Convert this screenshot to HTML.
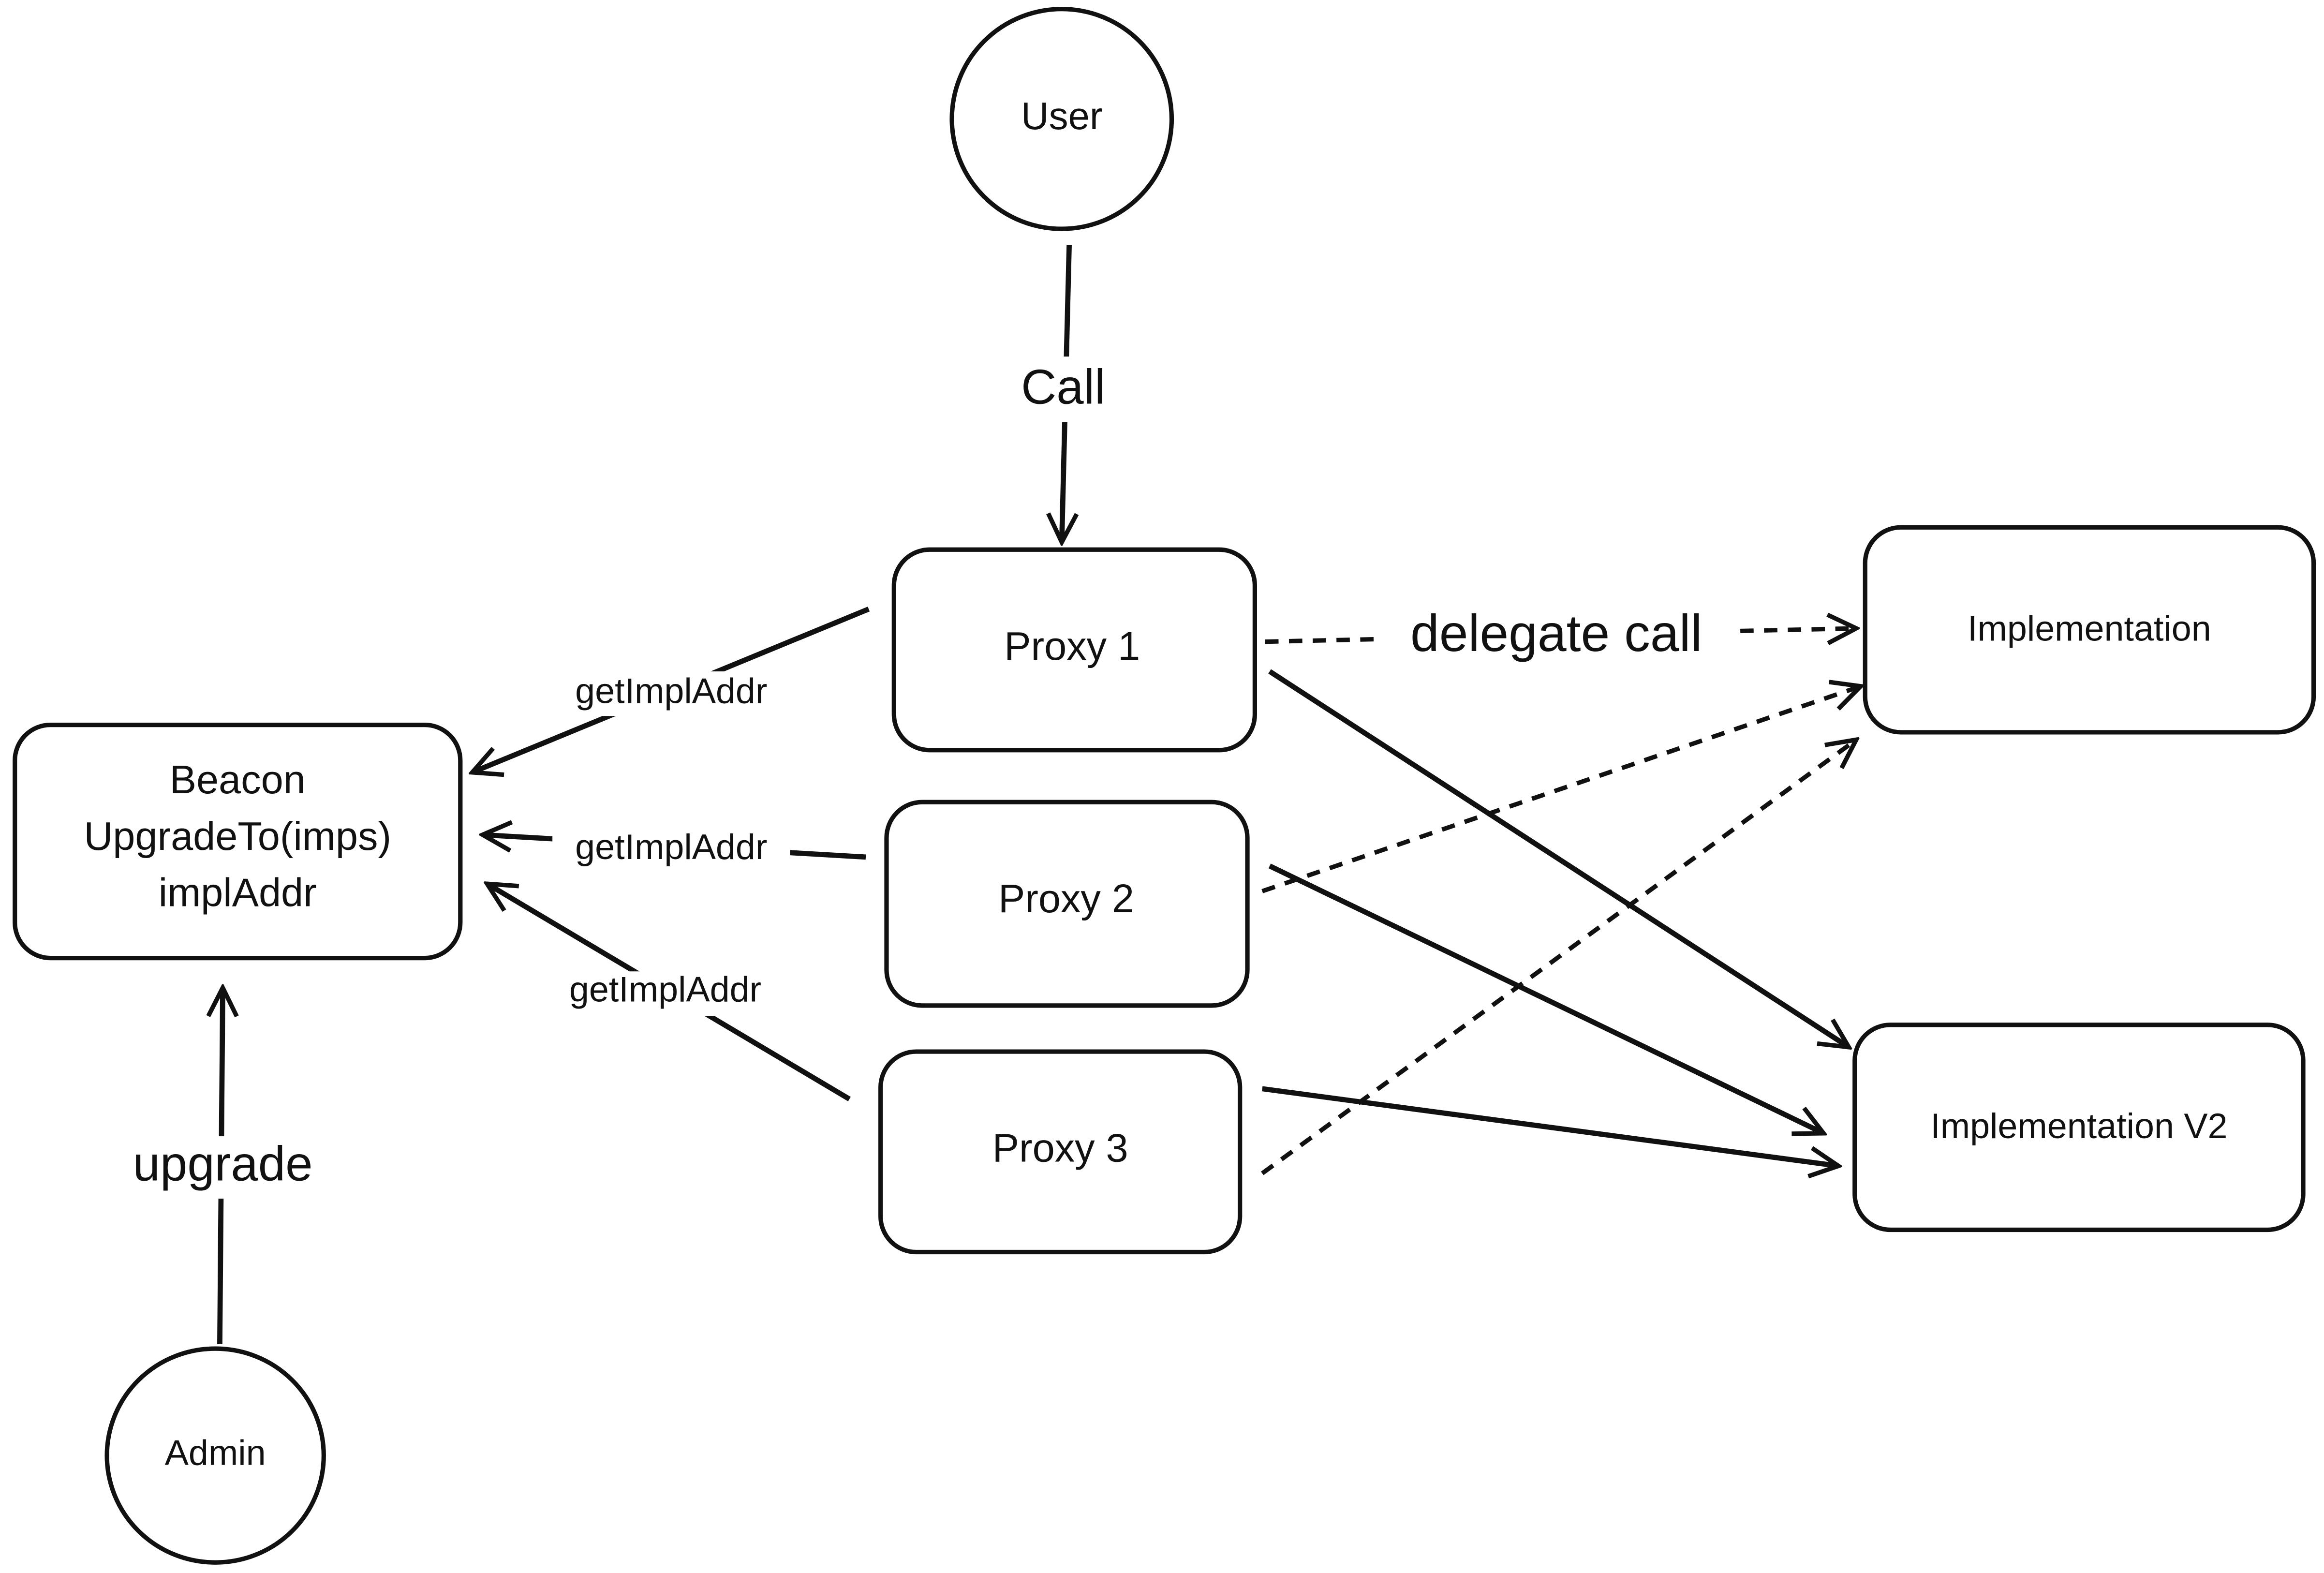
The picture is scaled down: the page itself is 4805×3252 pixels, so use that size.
<!DOCTYPE html>
<html><head><meta charset="utf-8"><style>
html,body{margin:0;padding:0;background:#fff;}
svg{display:block;}
text{font-family:"Liberation Sans",sans-serif;fill:#111;text-anchor:middle;dominant-baseline:middle;}
</style></head><body>
<svg width="4805" height="3252" viewBox="0 0 1565 1059" xmlns="http://www.w3.org/2000/svg">
<defs>
<marker id="a" viewBox="0 0 20 20" refX="18" refY="10" markerWidth="9" markerHeight="9" markerUnits="userSpaceOnUse" orient="auto">
<path d="M2 2 L18 10 L2 18" fill="none" stroke="#111" stroke-width="3"/>
</marker>
<marker id="b" viewBox="0 0 20 20" refX="18" refY="10" markerWidth="24" markerHeight="24" markerUnits="userSpaceOnUse" orient="auto">
<path d="M2 2 L18 10 L2 18" fill="none" stroke="#111" stroke-width="2.5"/>
</marker>
</defs>
<rect width="1565" height="1059" fill="#fff"/>
<g fill="none" stroke="#111" stroke-width="3">
<ellipse cx="715" cy="80" rx="74" ry="74"/>
<ellipse cx="145" cy="980" rx="73" ry="72"/>
<rect x="602" y="370" width="243" height="135" rx="24"/>
<rect x="597" y="540" width="243" height="137" rx="24"/>
<rect x="593" y="708" width="242" height="135" rx="24"/>
<rect x="10" y="488" width="300" height="157" rx="24"/>
<rect x="1256" y="355" width="302" height="138" rx="24"/>
<rect x="1249" y="690" width="302" height="138" rx="24"/>
</g>
<g fill="none" stroke="#111" stroke-width="3.5">
<line x1="720" y1="165" x2="715" y2="365" marker-end="url(#b)"/>
<line x1="148" y1="905" x2="150" y2="665" marker-end="url(#b)"/>
<line x1="585" y1="410" x2="318" y2="520" marker-end="url(#b)"/>
<line x1="583" y1="577" x2="325" y2="562" marker-end="url(#b)"/>
<line x1="572" y1="740" x2="328" y2="595" marker-end="url(#b)"/>
<line x1="855" y1="452" x2="1245" y2="705" marker-end="url(#b)"/>
<line x1="855" y1="583" x2="1228" y2="763" marker-end="url(#b)"/>
<line x1="850" y1="733" x2="1238" y2="785" marker-end="url(#b)"/>
</g>
<g fill="none" stroke="#111" stroke-width="3" stroke-dasharray="9 7">
<line x1="852" y1="432" x2="1250" y2="423" marker-end="url(#b)"/>
<line x1="850" y1="600" x2="1253" y2="462" marker-end="url(#b)"/>
<line x1="850" y1="790" x2="1250" y2="498" marker-end="url(#b)"/>
</g>
<rect x="675" y="240" width="80" height="44" fill="#fff"/>
<text x="716" y="263" font-size="33">Call</text>
<rect x="85" y="765" width="130" height="42" fill="#fff"/>
<text x="150" y="786" font-size="33">upgrade</text>
<rect x="930" y="408" width="236" height="42" fill="#fff"/>
<text x="1048" y="429" font-size="35">delegate call</text>
<rect x="372" y="452" width="160" height="30" fill="#fff"/>
<text x="452" y="467" font-size="24">getImplAddr</text>
<rect x="372" y="558" width="160" height="30" fill="#fff"/>
<text x="452" y="572" font-size="24">getImplAddr</text>
<rect x="368" y="654" width="160" height="30" fill="#fff"/>
<text x="448" y="668" font-size="24">getImplAddr</text>
<text x="715" y="80" font-size="26">User</text>
<text x="145" y="980" font-size="24">Admin</text>
<text x="722" y="437" font-size="27">Proxy 1</text>
<text x="718" y="607" font-size="27">Proxy 2</text>
<text x="714" y="775" font-size="27">Proxy 3</text>
<text x="160" y="527" font-size="27">Beacon</text>
<text x="160" y="565" font-size="27">UpgradeTo(imps)</text>
<text x="160" y="603" font-size="27">implAddr</text>
<text x="1407" y="425" font-size="24">Implementation</text>
<text x="1400" y="760" font-size="24">Implementation V2</text>
</svg>
</body></html>
